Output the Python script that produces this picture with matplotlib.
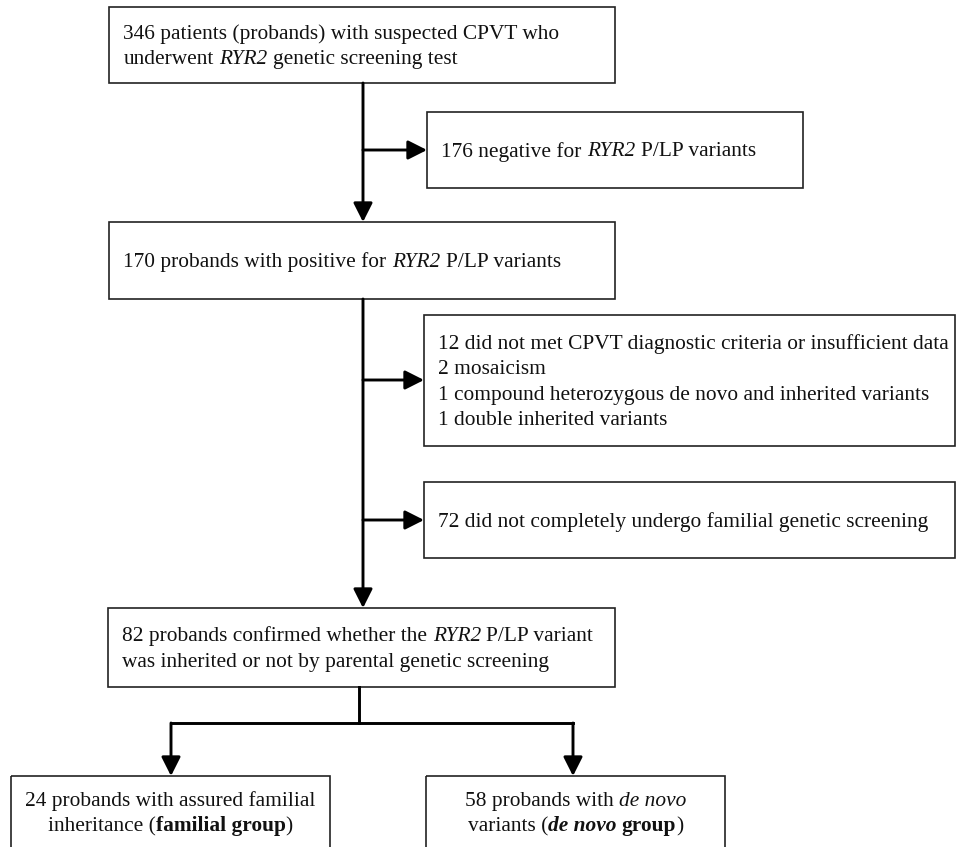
import re
import matplotlib
matplotlib.use("Agg")
import matplotlib.pyplot as plt
from matplotlib.patches import Rectangle

# box texts, *italic*, **bold**, ***bold italic***
top_lines = ["346 patients (probands) with suspected CPVT who",
             "underwent *RYR2* genetic screening test"]
negative_lines = ["176 negative for *RYR2* P/LP variants"]
positive_lines = ["170 probands with positive for *RYR2* P/LP variants"]
excluded_lines = ["12 did not met CPVT diagnostic criteria or insufficient data",
                  "2 mosaicism",
                  "1 compound heterozygous de novo and inherited variants",
                  "1 double inherited variants"]
no_screen_lines = ["72 did not completely undergo familial genetic screening"]
confirmed_lines = ["82 probands confirmed whether the *RYR2* P/LP variant",
                   "was inherited or not by parental genetic screening"]
familial_lines = ["24 probands with assured familial",
                  "inheritance (**familial group**)"]
denovo_lines = ["58 probands with *de novo*",
                "variants (***de novo*** **group**)"]

# layout in pixels (x0, y0, x1, y1), y down
b_top = (109, 7, 615, 83)
b_neg = (427, 112, 803, 188)
b_pos = (109, 222, 615, 299)
b_exc = (424, 315, 955, 446)
b_nos = (424, 482, 955, 558)
b_conf = (108, 608, 615, 687)
b_fam = (11, 776, 330, 870)
b_dn = (426, 776, 725, 870)

main_x = 363
FS = 15.4
LINE_H = 25.5
FONT = "Liberation Serif"

fig = plt.figure(figsize=(9.56, 8.47), dpi=100)
ax = fig.add_axes([0, 0, 1, 1])
ax.set_xlim(0, 956)
ax.set_ylim(847, 0)
ax.axis("off")
renderer = fig.canvas.get_renderer()


def parse(s):
    runs = []
    for part in re.split(r"(\*\*\*[^*]+\*\*\*|\*\*[^*]+\*\*|\*[^*]+\*)", s):
        if not part:
            continue
        if part.startswith("***"):
            runs.append((part[3:-3], "italic", "bold"))
        elif part.startswith("**"):
            runs.append((part[2:-2], "normal", "bold"))
        elif part.startswith("*"):
            runs.append((part[1:-1], "italic", "normal"))
        else:
            runs.append((part, "normal", "normal"))
    return runs


def raw_width(s, style, weight):
    t = ax.text(0, 0, s, fontsize=FS, family=FONT, style=style, weight=weight)
    w = t.get_window_extent(renderer).width
    t.remove()
    return w


def advance(s, style, weight):
    # advance width incl. spaces: bracket with bars and subtract them
    return raw_width("l" + s + "l", style, weight) - raw_width("ll", style, weight)


def draw_line(x, y, s, ha="left"):
    runs = parse(s)
    ws = [advance(txt, st, wt) for txt, st, wt in runs]
    total = sum(ws)
    cx = x - total / 2 if ha == "center" else x
    for (txt, st, wt), w in zip(runs, ws):
        lead = len(txt) - len(txt.lstrip(" "))
        off = advance(txt[:lead], st, wt) if lead else 0
        if txt.strip():
            ax.text(cx + off, y + 6.5, txt.strip(" "), fontsize=FS, family=FONT,
                    style=st, weight=wt, va="baseline", ha="left", color="#111111")
        cx += w


def box(b, lines, ha="left", yc=None):
    x0, y0, x1, y1 = b
    ax.add_patch(Rectangle((x0, y0), x1 - x0, y1 - y0, fill=False,
                           edgecolor="#222222", lw=1.2))
    if yc is None:
        yc = (y0 + y1) / 2
    start = yc - (len(lines) - 1) * LINE_H / 2
    for i, ln in enumerate(lines):
        if ha == "left":
            draw_line(x0 + 14.5, start + i * LINE_H, ln)
        else:
            draw_line((x0 + x1) / 2, start + i * LINE_H, ln, ha="center")


def arrow(p0, p1):
    ax.annotate("", xy=p1, xytext=p0,
                arrowprops=dict(arrowstyle="-|>,head_length=1.15,head_width=0.58",
                                mutation_scale=10, lw=2.1, color="black",
                                shrinkA=0, shrinkB=0))


box(b_top, top_lines)
box(b_neg, negative_lines)
box(b_pos, positive_lines)
box(b_exc, excluded_lines)
box(b_nos, no_screen_lines)
box(b_conf, confirmed_lines)
box(b_fam, familial_lines, ha="center", yc=812)
box(b_dn, denovo_lines, ha="center", yc=812)

# main flow
arrow((main_x, b_top[3]), (main_x, b_pos[1]))
arrow((main_x, (b_neg[1] + b_neg[3]) / 2), (b_neg[0], (b_neg[1] + b_neg[3]) / 2))
arrow((main_x, b_pos[3]), (main_x, b_conf[1]))
arrow((main_x, 380), (b_exc[0], 380))
arrow((main_x, (b_nos[1] + b_nos[3]) / 2), (b_nos[0], (b_nos[1] + b_nos[3]) / 2))

# split to the two groups
split_y = 723
fam_x = 171
dn_x = 573
ax.plot([359, 359], [b_conf[3], split_y], color="black", lw=2.1)
ax.plot([fam_x, dn_x], [split_y, split_y], color="black", lw=2.1,
        solid_capstyle="projecting")
arrow((fam_x, split_y), (fam_x, b_fam[1]))
arrow((dn_x, split_y), (dn_x, b_dn[1]))

fig.savefig("out.png", dpi=100)
